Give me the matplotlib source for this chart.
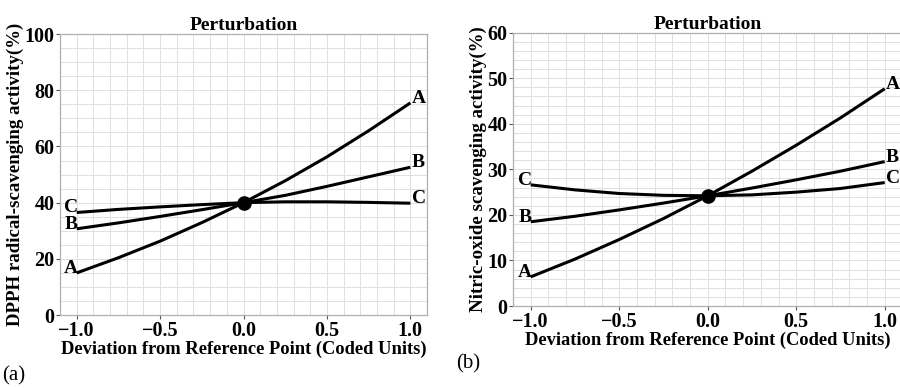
import numpy as np
import matplotlib
matplotlib.use('Agg')
import matplotlib.pyplot as plt
from matplotlib.ticker import MultipleLocator
import matplotlib.transforms as mtransforms

plt.rcParams['font.family'] = ['Liberation Serif', 'DejaVu Serif']
plt.rcParams['font.weight'] = 'bold'
plt.rcParams['axes.labelweight'] = 'bold'
plt.rcParams['axes.titleweight'] = 'bold'

# coded deviation from the reference point
x = [-1.0, -0.75, -0.5, -0.25, 0.0, 0.25, 0.5, 0.75, 1.0]

# (a) DPPH radical-scavenging activity (%)
dpph_A = [15.0, 20.4, 26.3, 32.9, 40.0, 47.8, 56.3, 65.6, 75.5]
dpph_B = [30.7, 32.8, 35.1, 37.5, 40.0, 42.6, 45.8, 49.2, 52.6]
dpph_C = [36.5, 37.6, 38.5, 39.3, 40.0, 40.3, 40.3, 40.1, 39.8]
dpph_ref = 40.0

# (b) Nitric-oxide scavenging activity (%)
no_A = [6.4, 10.3, 14.6, 19.2, 24.2, 29.6, 35.3, 41.3, 47.7]
no_B = [18.5, 19.7, 21.1, 22.6, 24.2, 25.9, 27.7, 29.6, 31.7]
no_C = [26.6, 25.5, 24.7, 24.3, 24.2, 24.4, 25.0, 25.8, 27.1]
no_ref = 24.2

panels = [
    dict(rect=[0.0667, 0.188, 0.4078, 0.7242], ylim=(0, 100), major=20, minor=5,
         ylabel='DPPH radical-scavenging activity(%)',
         series=[('A', dpph_A), ('B', dpph_B), ('C', dpph_C)], ref=dpph_ref,
         tag='(a)', tagpos=(0.002, 0.02)),
    dict(rect=[0.570, 0.2113, 0.4327, 0.7044], ylim=(0, 60), major=10, minor=2,
         ylabel='Nitric-oxide scavenging activity(%)',
         series=[('A', no_A), ('B', no_B), ('C', no_C)], ref=no_ref,
         tag='(b)', tagpos=(0.507, 0.05)),
]

fig = plt.figure(figsize=(9, 3.88), dpi=100)

for p in panels:
    ax = fig.add_axes(p['rect'])
    ax.set_xlim(-1.1, 1.1)
    ax.set_ylim(*p['ylim'])
    ax.xaxis.set_major_locator(MultipleLocator(0.5))
    ax.xaxis.set_minor_locator(MultipleLocator(0.1))
    ax.yaxis.set_major_locator(MultipleLocator(p['major']))
    ax.yaxis.set_minor_locator(MultipleLocator(p['minor']))
    ax.grid(which='both', color='#e0e0e0', linewidth=0.7)
    ax.set_axisbelow(True)
    for s in ax.spines.values():
        s.set_color('#b0b0b0')
        s.set_linewidth(0.9)
    ax.tick_params(which='major', length=3, width=0.8, color='#555555',
                   labelsize=14.5, pad=1)
    ax.tick_params(which='minor', length=0)
    for lab in ax.get_xticklabels() + ax.get_yticklabels():
        lab.set_fontweight('bold')

    right_off = mtransforms.offset_copy(ax.transData, fig=fig, x=1, y=0, units='points')
    left_off = mtransforms.offset_copy(ax.transData, fig=fig, x=1, y=0, units='points')
    for name, ys in p['series']:
        ax.plot(x, ys, color='black', linewidth=2.2, solid_capstyle='butt', zorder=3)
        ax.text(x[-1], ys[-1], name, transform=right_off, ha='left', va='baseline',
                fontsize=14, fontweight='bold')
        ax.text(x[0], ys[0], name, transform=left_off, ha='right', va='baseline',
                fontsize=14, fontweight='bold')
    ax.plot([0], [p['ref']], 'o', color='black', markersize=9.5, zorder=4)

    ax.set_title('Perturbation', fontsize=14, fontweight='bold', pad=3)
    ax.set_xlabel('Deviation from Reference Point (Coded Units)', fontsize=13.3,
                  fontweight='bold', labelpad=0)
    ax.set_ylabel(p['ylabel'], fontsize=13.6, fontweight='bold', labelpad=0)
    fig.text(p['tagpos'][0], p['tagpos'][1], p['tag'], fontsize=15,
             fontweight='normal')

fig.savefig('out.png', dpi=100)
